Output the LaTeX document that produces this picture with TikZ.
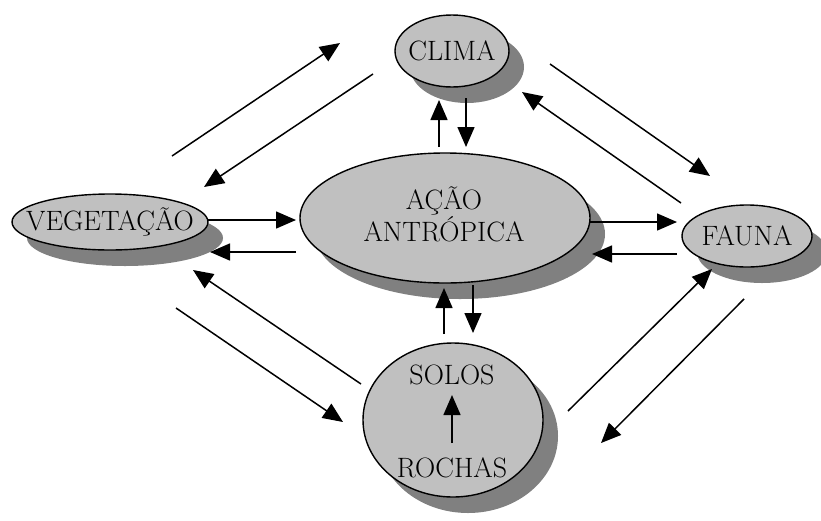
\documentclass[tikz,border=0pt]{standalone}
\usepackage{fontspec}
\usetikzlibrary{shapes.geometric,shadows,arrows.meta}
\definecolor{bubblefill}{HTML}{C0C0C0}
\definecolor{bubbleshade}{HTML}{808080}
\begin{document}
\begin{tikzpicture}[x=1pt,y=-1pt,
  bubble/.style={ellipse, draw=black, line width=1.4pt, fill=bubblefill, inner sep=0pt,
    drop shadow={shadow xshift=15pt, shadow yshift=-16pt, fill=bubbleshade, opacity=1}},
  word/.style={font=\fontsize{28}{32}\selectfont, align=center, inner sep=0pt},
  link/.style={line width=1.5pt, -{Triangle[length=20pt,width=17pt]}}]
\useasboundingbox (0,0) rectangle (821,520);

% ellipses
\node[bubble, minimum width=114pt, minimum height=72pt]  (clima) at (452,51)  {};
\node[bubble, minimum width=196pt, minimum height=56pt]  (veg)   at (110,222) {};
\node[bubble, minimum width=290pt, minimum height=130pt] (acao)  at (445,218) {};
\node[bubble, minimum width=130pt, minimum height=62pt]  (fauna) at (747,236) {};
\node[bubble, minimum width=180pt, minimum height=154pt] (solos) at (453,420) {};

% labels
\node[word] (climaT) at (clima) {CLIMA};
\node[word] (vegT)   at (veg)   {VEGETAÇÃO};
\node[word] (acaoT)  at (444,214) {AÇÃO\\ANTRÓPICA};
\node[word] (faunaT) at (fauna) {FAUNA};
\node[word] (solosT) at (452,375) {SOLOS};
\node[word] (rochT)  at (452,468) {ROCHAS};
\coordinate (rA) at (452,443);
\coordinate (rB) at (452,395);
\draw[link] (rA) -- (rB);

% arrow end points
\coordinate (vc1) at (172,156); \coordinate (vc2) at (340,43);
\coordinate (cv1) at (373,74);  \coordinate (cv2) at (204,187);
\coordinate (ca1) at (439,147); \coordinate (ca2) at (439,100);
\coordinate (ac1) at (466,98);  \coordinate (ac2) at (466,147);
\coordinate (cf1) at (550,64);  \coordinate (cf2) at (710,176);
\coordinate (fc1) at (681,203); \coordinate (fc2) at (522,92);
\coordinate (va1) at (208,220); \coordinate (va2) at (296,220);
\coordinate (av1) at (296,252); \coordinate (av2) at (210,252);
\coordinate (af1) at (590,222); \coordinate (af2) at (677,222);
\coordinate (fa1) at (677,254); \coordinate (fa2) at (592,254);
\coordinate (sa1) at (444,334); \coordinate (sa2) at (444,288);
\coordinate (as1) at (473,285); \coordinate (as2) at (473,333);
\coordinate (sv1) at (361,384); \coordinate (sv2) at (193,270);
\coordinate (vs1) at (176,308); \coordinate (vs2) at (343,422);
\coordinate (sf1) at (568,411); \coordinate (sf2) at (712,269);
\coordinate (fs1) at (744,299); \coordinate (fs2) at (601,443);

% connectors
\foreach \p in {vc,cv,ca,ac,cf,fc,va,av,af,fa,sa,as,sv,vs,sf,fs}
  \draw[link] (\p1) -- (\p2);
\end{tikzpicture}
\end{document}
